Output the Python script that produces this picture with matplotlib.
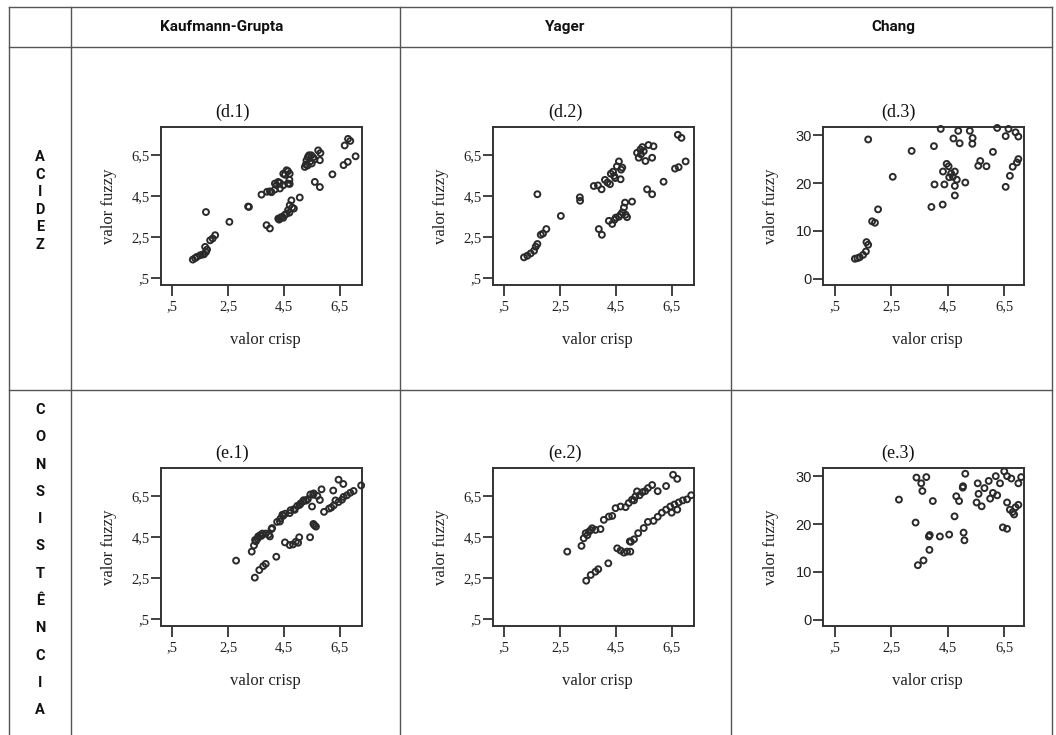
import matplotlib
matplotlib.use("Agg")
import matplotlib.pyplot as plt
import numpy as np
from matplotlib.lines import Line2D

# dados (valor crisp, valor fuzzy)
d1 = [(1.24, 1.41), (1.32, 1.48), (1.38, 1.54), (1.5, 1.62), (1.6, 1.66), (1.64, 1.67), (1.71, 1.78),
      (1.68, 2.03), (1.75, 1.9), (1.86, 2.35), (1.95, 2.44), (2.04, 2.6), (1.71, 3.73), (2.55, 3.25),
      (3.25, 3.98), (3.22, 4.0),
      (3.7, 4.58), (3.9, 4.72), (4.0, 4.74), (4.06, 4.7), (4.18, 4.83), (4.18, 5.12), (4.24, 5.04),
      (4.3, 5.2), (4.36, 4.88), (4.36, 5.15), (4.48, 5.6), (4.48, 5.04), (4.54, 5.55), (4.6, 5.77),
      (4.65, 5.72), (4.71, 5.6), (4.7, 5.3), (4.65, 5.12), (4.71, 5.1),
      (5.25, 5.93), (5.29, 6.05), (5.31, 6.25), (5.36, 6.41), (5.4, 6.5), (5.45, 6.2), (5.48, 6.5),
      (5.55, 6.4), (5.6, 6.3), (5.73, 6.74), (5.81, 6.61), (5.79, 6.26), (5.5, 6.1), (5.35, 6.0),
      (3.88, 3.09), (4.0, 2.93), (4.3, 3.41), (4.33, 3.36), (4.38, 3.45), (4.42, 3.49), (4.48, 3.45),
      (4.54, 3.6), (4.6, 3.65), (4.65, 3.82), (4.7, 3.7), (4.71, 4.06), (4.77, 4.3), (4.8, 3.95),
      (4.86, 3.9), (5.07, 4.44),
      (5.61, 5.2), (5.79, 4.95), (6.24, 5.57), (6.64, 6.02), (6.79, 6.18), (7.07, 6.45), (6.68, 6.98),
      (6.8, 7.3), (6.88, 7.2)]

d2 = [(1.21, 1.52), (1.33, 1.6), (1.45, 1.71), (1.57, 1.84), (1.63, 2.04), (1.69, 2.17), (1.81, 2.62),
      (1.89, 2.68), (2.01, 2.9), (1.69, 4.6), (2.53, 3.54), (3.21, 4.45), (3.22, 4.28),
      (3.71, 5.0), (3.86, 5.03), (3.99, 4.84), (4.11, 5.3), (4.2, 5.17), (4.29, 5.09), (4.32, 5.6),
      (4.44, 5.49), (4.48, 5.39), (4.54, 5.96), (4.61, 6.2), (4.69, 5.8), (4.73, 5.9), (4.67, 5.33),
      (4.4, 5.7),
      (3.89, 2.9), (4.0, 2.62), (4.25, 3.3), (4.37, 3.15), (4.45, 3.35), (4.5, 3.46), (4.61, 3.5),
      (4.67, 3.6), (4.73, 3.71), (4.79, 3.95), (4.83, 4.19), (4.9, 3.48), (4.85, 3.6), (5.08, 4.24),
      (5.26, 6.62), (5.32, 6.38), (5.38, 6.78), (5.45, 6.9), (5.5, 6.7), (5.56, 6.22), (5.67, 7.0),
      (5.85, 6.94), (5.8, 6.38), (5.4, 6.55),
      (5.62, 4.84), (5.8, 4.6), (6.21, 5.21),
      (6.62, 5.85), (6.75, 5.92), (7.0, 6.2), (6.72, 7.5), (6.85, 7.35)]

d3 = [(1.21, 4.18), (1.3, 4.3), (1.38, 4.5), (1.5, 5.0), (1.6, 5.7), (1.62, 7.66), (1.68, 7.1),
      (1.82, 12.0), (1.92, 11.7), (2.03, 14.5), (1.68, 29.1), (2.55, 21.3), (3.22, 26.7),
      (3.92, 15.0), (4.32, 15.5), (4.01, 27.7), (4.03, 19.7), (4.38, 19.7), (4.33, 22.4), (4.46, 24.0),
      (4.53, 23.5), (4.55, 21.2), (4.68, 21.3), (4.75, 22.4), (4.82, 20.7), (4.75, 19.4), (4.75, 17.4),
      (5.12, 20.1), (4.62, 22.0),
      (4.25, 31.3), (4.7, 29.3), (4.92, 28.3), (4.87, 30.9), (5.28, 30.9), (5.38, 29.4), (5.37, 28.2),
      (5.58, 23.6), (5.65, 24.6), (5.87, 23.5), (6.25, 31.5),
      (6.1, 26.5), (6.55, 29.8), (6.65, 31.3), (6.9, 30.6), (7.0, 29.7), (6.55, 19.2), (6.7, 21.5),
      (6.8, 23.4), (6.95, 24.3), (7.0, 25.0)]

e1 = [(2.79, 3.36), (3.35, 3.8), (3.43, 4.1), (3.47, 4.37), (3.5, 4.3), (3.56, 4.43), (3.58, 4.54),
      (3.65, 4.6), (3.7, 4.57), (3.73, 4.68), (3.85, 4.68), (3.96, 4.63), (4.0, 4.54), (4.06, 4.9),
      (4.08, 4.95), (4.26, 5.25), (4.36, 5.27), (4.38, 5.41), (4.45, 5.6), (4.48, 5.55), (4.55, 5.65),
      (4.71, 5.68), (4.74, 5.82), (4.86, 5.87), (4.89, 5.84), (4.98, 6.03), (5.07, 6.08), (5.1, 6.15),
      (5.18, 6.24), (5.21, 6.31), (5.3, 6.29), (5.36, 6.36), (5.45, 6.59), (5.51, 6.0), (5.55, 6.57),
      (5.57, 6.64), (5.7, 6.52), (5.79, 6.32), (5.85, 6.84), (6.27, 6.78), (6.46, 7.31), (6.63, 7.1),
      (3.46, 2.53), (3.62, 2.9), (3.76, 3.09), (3.85, 3.2), (4.23, 3.55), (4.54, 4.25), (4.71, 4.12),
      (4.83, 4.15), (4.93, 4.28), (5.01, 4.23), (5.05, 4.5), (5.44, 4.5), (5.56, 5.15), (5.6, 5.08),
      (5.65, 5.02), (5.94, 5.74), (6.12, 5.9), (6.2, 5.95), (6.29, 6.06), (6.35, 6.3), (6.46, 6.22),
      (6.58, 6.33), (6.64, 6.47), (6.76, 6.55), (6.88, 6.67), (7.0, 6.76), (7.27, 7.03)]

e2 = [(2.76, 3.8), (3.27, 4.08), (3.35, 4.45), (3.42, 4.7), (3.48, 4.6), (3.54, 4.78), (3.6, 4.85),
      (3.65, 4.94), (3.77, 4.86), (3.95, 4.9), (4.07, 5.35), (4.25, 5.51), (4.37, 5.54), (4.49, 5.92),
      (4.67, 6.0), (4.85, 5.97), (4.96, 6.17), (5.08, 6.33), (5.15, 6.3), (5.2, 6.49), (5.26, 6.74),
      (5.35, 6.55), (5.45, 6.7), (5.55, 6.75), (5.65, 6.9), (5.8, 7.05), (6.0, 6.75), (6.3, 7.0),
      (6.55, 7.55), (6.7, 7.35),
      (3.44, 2.38), (3.6, 2.66), (3.77, 2.82), (3.87, 2.94), (4.23, 3.23), (4.55, 3.96), (4.67, 3.85),
      (4.79, 3.75), (4.9, 3.8), (5.02, 3.8), (5.04, 4.28), (5.0, 4.3), (5.15, 4.4), (5.3, 4.7),
      (5.5, 4.95), (5.65, 5.25), (5.85, 5.3), (6.0, 5.5), (6.15, 5.7), (6.3, 5.85), (6.45, 6.0),
      (6.5, 5.7), (6.6, 6.1), (6.7, 5.85), (6.75, 6.2), (6.9, 6.3), (7.05, 6.35), (7.2, 6.55)]

e3 = [(2.77, 25.1), (3.36, 20.3), (3.39, 29.7), (3.56, 28.5), (3.74, 29.8), (3.6, 26.9), (3.97, 24.8),
      (3.44, 11.4), (3.64, 12.4), (3.85, 14.6), (3.83, 17.4), (3.86, 17.7), (4.22, 17.4), (4.55, 17.8),
      (4.74, 21.6), (4.8, 25.8), (4.9, 24.8), (5.03, 27.6), (5.04, 27.9), (5.12, 30.5), (5.06, 18.2),
      (5.09, 16.6), (5.56, 28.5), (5.59, 26.3), (5.52, 24.5),
      (5.8, 27.5), (5.95, 29.0), (6.1, 26.5), (6.2, 30.0), (6.35, 28.5), (6.5, 31.0), (6.6, 30.0),
      (6.75, 29.5), (7.0, 28.5), (7.1, 29.8), (6.45, 19.3), (6.6, 19.0), (6.7, 23.0), (6.8, 22.5),
      (6.9, 23.5), (6.85, 22.0), (6.6, 24.5), (7.0, 24.0), (5.7, 23.7), (6.0, 25.3), (6.25, 26.0)]

colunas = ["Kaufmann-Grupta", "Yager", "Chang"]
linhas = ["ACIDEZ", "CONSISTÊNCIA"]
titulos = [["(d.1)", "(d.2)", "(d.3)"], ["(e.1)", "(e.2)", "(e.3)"]]
paineis = [[d1, d2, d3], [e1, e2, e3]]

x_ticks = [0.5, 2.5, 4.5, 6.5]
x_labels = [",5", "2,5", "4,5", "6,5"]
y_ticks = [0.5, 2.5, 4.5, 6.5]
y_labels = [",5", "2,5", "4,5", "6,5"]
chang_ticks = [0, 10, 20, 30]

W, H = 1056, 735
fig = plt.figure(figsize=(W / 100, H / 100), dpi=100)
fig.patch.set_facecolor("white")


def fx(px):
    return px / W


def fy(py):
    return 1 - py / H


# tabela
cor_tab = "#555555"
for y in [7, 47, 390]:
    fig.add_artist(Line2D([fx(9), fx(1052)], [fy(y), fy(y)], color=cor_tab, lw=1.0))
for x in [9, 71, 400, 731, 1052]:
    fig.add_artist(Line2D([fx(x), fx(x)], [fy(7), fy(735)], color=cor_tab, lw=1.0))

fonte_tab = ["Roboto", "DejaVu Sans"]
centros_col = [222, 565, 893]
for c, nome in zip(centros_col, colunas):
    fig.text(fx(c), fy(27), nome, ha="center", va="center", fontsize=11,
             family=fonte_tab, fontweight="bold", color="#111111")

# letras na vertical
for i, letra in enumerate(linhas[0]):
    fig.text(fx(40), fy(157 + i * 17.6), letra, ha="center", va="center", fontsize=10.5,
             family=fonte_tab, fontweight="bold", color="#111111")
for i, letra in enumerate(linhas[1]):
    fig.text(fx(40), fy(410 + i * 27.3), letra, ha="center", va="center", fontsize=10.5,
             family=fonte_tab, fontweight="bold", color="#111111")

esquerda = [161, 493, 823]
topo = [127, 468]
largura, altura = 201, 158
centros_tit = [232, 565, 898]

for r in range(2):
    for c in range(3):
        x0 = esquerda[c]
        y0 = topo[r]
        ax = fig.add_axes([fx(x0), fy(y0 + altura), largura / W, altura / H])
        pts = np.array(paineis[r][c])
        ax.scatter(pts[:, 0], pts[:, 1], s=18, facecolors="none", edgecolors="#2a2a2a",
                   linewidths=1.4, clip_on=False, zorder=3)
        if c == 2:
            ax.set_xlim(0.08, 7.2)
            ax.set_ylim(-1.3, 31.7)
            ax.set_yticks(chang_ticks)
            ax.set_yticklabels([str(v) for v in chang_ticks], family="Liberation Sans",
                               fontsize=10.5)
        else:
            ax.set_xlim(0.1, 7.3)
            ax.set_ylim(0.17, 7.88)
            ax.set_yticks(y_ticks)
            ax.set_yticklabels(y_labels, family="Liberation Serif", fontsize=10.5)
        ax.set_xticks(x_ticks)
        ax.set_xticklabels(x_labels, family="Liberation Serif", fontsize=10.5)
        ax.tick_params(axis="y", direction="out", length=7, width=1.3, color="#333333", pad=1,
                       labelcolor="#222222")
        ax.tick_params(axis="x", direction="out", length=8, width=1.3, color="#333333", pad=3,
                       labelcolor="#222222")
        for s in ax.spines.values():
            s.set_linewidth(1.4)
            s.set_color("#333333")

        fig.text(fx(centros_tit[c]), fy(y0 - 15), titulos[r][c], ha="center", va="center",
                 fontsize=13, family="Liberation Serif", color="#111111")
        fig.text(fx(x0 - 52), fy(y0 + altura / 2), "valor fuzzy", rotation=90, ha="center",
                 va="center", fontsize=12, family="Liberation Serif", color="#222222")
        fig.text(fx(x0 + 104), fy(y0 + 213), "valor crisp", ha="center", va="center",
                 fontsize=12, family="Liberation Serif", color="#222222")

fig.savefig("out.png", dpi=100, facecolor="white")
